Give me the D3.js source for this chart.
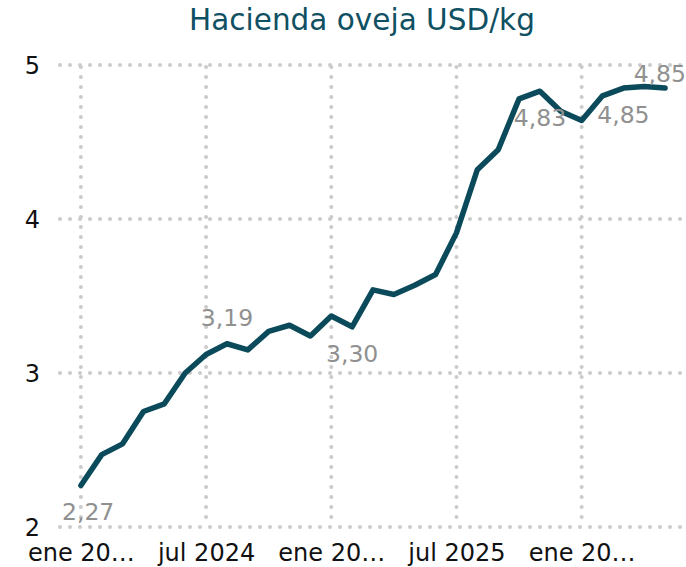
<!DOCTYPE html>
<html>
<head>
<meta charset="utf-8">
<script src="https://cdn.jsdelivr.net/npm/d3@7"></script>
<style>
  html, body { margin: 0; padding: 0; background: #fff; }
  svg { display: block; font-family: "DejaVu Sans", sans-serif; }
</style>
</head>
<body>
<svg id="chart" width="686" height="567"></svg>
<script>
// ---- data ----
const title = "Hacienda oveja USD/kg";
const months = [
  "2024-01","2024-02","2024-03","2024-04","2024-05","2024-06",
  "2024-07","2024-08","2024-09","2024-10","2024-11","2024-12",
  "2025-01","2025-02","2025-03","2025-04","2025-05","2025-06",
  "2025-07","2025-08","2025-09","2025-10","2025-11","2025-12",
  "2026-01","2026-02","2026-03","2026-04","2026-05"
];
const values = [
  2.27, 2.47, 2.54, 2.75, 2.80, 3.00,
  3.12, 3.19, 3.15, 3.27, 3.31, 3.24,
  3.37, 3.30, 3.54, 3.51, 3.57, 3.64,
  3.91, 4.32, 4.45, 4.78, 4.83, 4.70,
  4.64, 4.80, 4.85, 4.86, 4.85
];
const xTickMonths = ["2024-01","2024-07","2025-01","2025-07","2026-01"];
const xTickLabels = ["ene 20…","jul 2024","ene 20…","jul 2025","ene 20…"];
const yTicks = [2, 3, 4, 5];
const labelMonths = ["2024-01","2024-08","2025-02","2025-11","2026-03","2026-05"];
const labelSides  = ["below","above","below","below","below","above"];

// ---- layout ----
const svg = d3.select("#chart");
const W = 686;
const plot = { left: 60, right: 686, top: 65, bottom: 527 };

const idx = m => months.indexOf(m);
const x = d3.scaleLinear().domain([-1, months.length]).range([plot.left, plot.right]);
const y = d3.scaleLinear().domain([2, 5]).range([plot.bottom, plot.top]);

const gridColor = "#cbcbcb";
const lineColor = "#0b4a5b";
const fmt = v => d3.format(".2f")(v).replace(".", ",");

// title
svg.append("text")
  .attr("x", 362).attr("y", 30)
  .attr("text-anchor", "middle")
  .attr("fill", "#0f5063")
  .attr("font-size", 29.5)
  .text(title);

// horizontal grid
svg.append("g").selectAll("line").data(yTicks).join("line")
  .attr("x1", plot.left).attr("x2", plot.right)
  .attr("y1", d => y(d)).attr("y2", d => y(d))
  .attr("stroke", gridColor).attr("stroke-width", 4)
  .attr("stroke-linecap", "round").attr("stroke-dasharray", "0,10");

// vertical grid
svg.append("g").selectAll("line").data(xTickMonths).join("line")
  .attr("x1", d => x(idx(d))).attr("x2", d => x(idx(d)))
  .attr("y1", plot.top + 2).attr("y2", plot.bottom)
  .attr("stroke", gridColor).attr("stroke-width", 4)
  .attr("stroke-linecap", "round").attr("stroke-dasharray", "0,10");

// y axis labels
const yAxis = d3.axisLeft(y).tickValues(yTicks).tickSize(0).tickPadding(0).tickFormat(d3.format("d"));
const gy = svg.append("g").attr("transform", "translate(40,0)").call(yAxis);
gy.select(".domain").remove();
gy.selectAll("text").attr("font-size", 24).attr("fill", "#111")
  .attr("font-family", "DejaVu Sans, sans-serif").attr("dy", "0.36em");

// x axis labels
const xAxis = d3.axisBottom(x)
  .tickValues(xTickMonths.map(idx))
  .tickSize(0).tickPadding(0)
  .tickFormat((d, i) => xTickLabels[i]);
const gx = svg.append("g").attr("transform", "translate(0,544)").call(xAxis);
gx.select(".domain").remove();
gx.selectAll("text").attr("font-size", 24).attr("fill", "#111")
  .attr("font-family", "DejaVu Sans, sans-serif").attr("dy", "0.72em");

// line
const line = d3.line().x((d, i) => x(i)).y(d => y(d));
svg.append("path").datum(values)
  .attr("d", line)
  .attr("fill", "none")
  .attr("stroke", lineColor)
  .attr("stroke-width", 5.5)
  .attr("stroke-linejoin", "round")
  .attr("stroke-linecap", "round");

// data labels
const lblSize = 23.5;
const lbl = svg.append("g");
labelMonths.forEach((m, k) => {
  const i = idx(m);
  const px = x(i), py = y(values[i]);
  const t = lbl.append("text")
    .attr("font-size", lblSize)
    .attr("fill", "#909090")
    .text(fmt(values[i]));
  const w = t.node().getComputedTextLength();
  let cx = px;
  if (cx - w / 2 < plot.left + 2) cx = plot.left + 2 + w / 2;
  if (cx + w / 2 > W) cx = W - w / 2;
  let base = labelSides[k] === "above" ? py - 18 : py + 35;
  if (base - 16.5 < plot.top) base = plot.top + 16.5;
  t.attr("x", cx).attr("y", base).attr("text-anchor", "middle");
});
</script>
</body>
</html>
